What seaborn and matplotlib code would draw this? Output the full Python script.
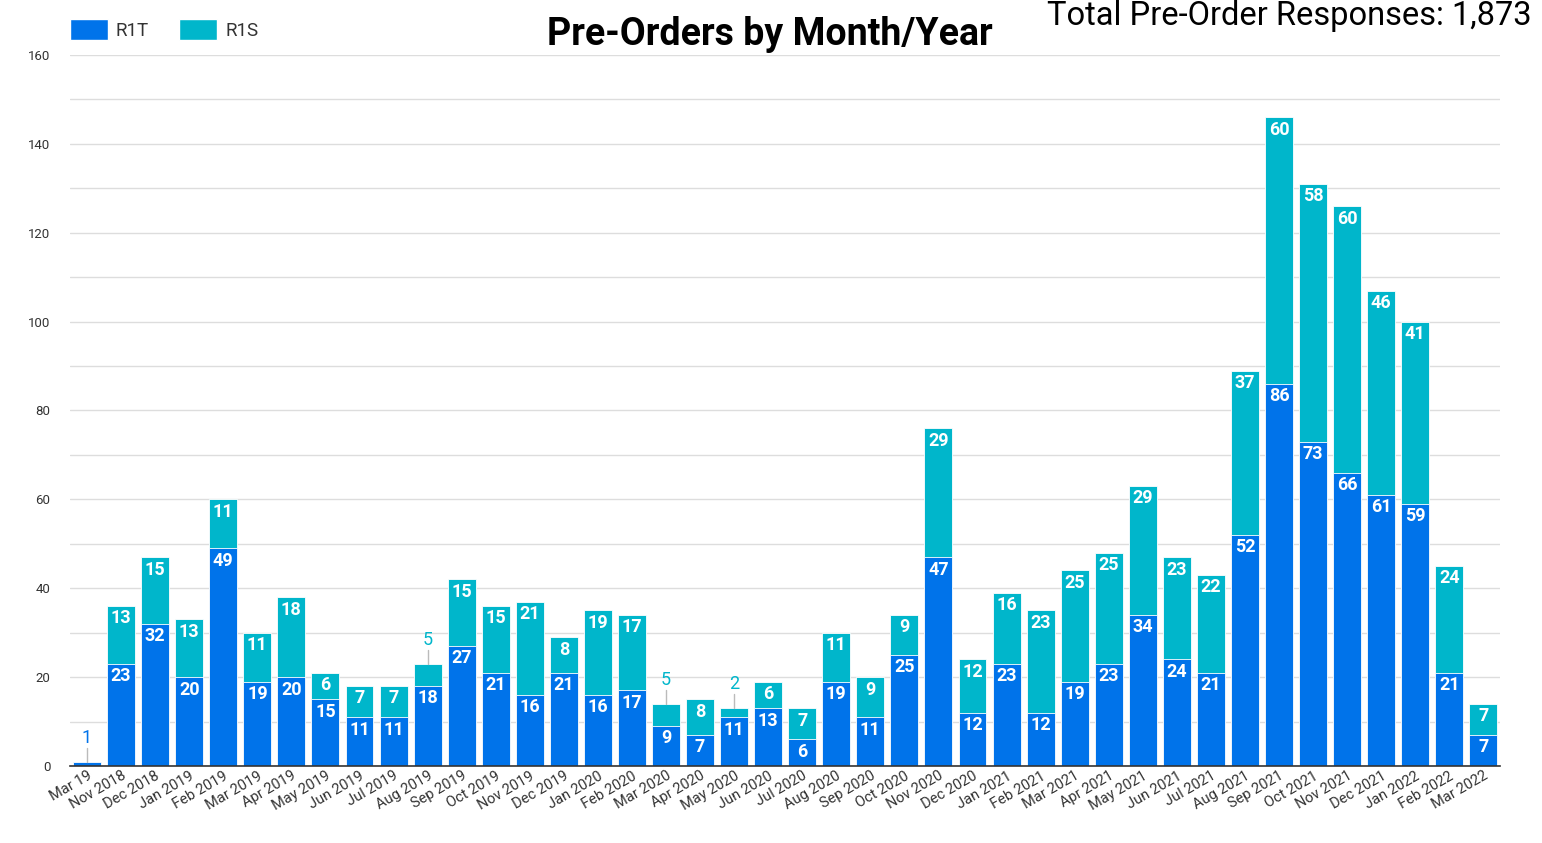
import matplotlib
matplotlib.use("Agg")
import matplotlib.pyplot as plt
from matplotlib.patches import Patch
import seaborn as sns
import pandas as pd
import numpy as np

months = ["Mar 19", "Nov 2018", "Dec 2018", "Jan 2019", "Feb 2019", "Mar 2019", "Apr 2019",
          "May 2019", "Jun 2019", "Jul 2019", "Aug 2019", "Sep 2019", "Oct 2019", "Nov 2019",
          "Dec 2019", "Jan 2020", "Feb 2020", "Mar 2020", "Apr 2020", "May 2020", "Jun 2020",
          "Jul 2020", "Aug 2020", "Sep 2020", "Oct 2020", "Nov 2020", "Dec 2020", "Jan 2021",
          "Feb 2021", "Mar 2021", "Apr 2021", "May 2021", "Jun 2021", "Jul 2021", "Aug 2021",
          "Sep 2021", "Oct 2021", "Nov 2021", "Dec 2021", "Jan 2022", "Feb 2022", "Mar 2022"]
r1t = [1, 23, 32, 20, 49, 19, 20, 15, 11, 11, 18, 27, 21, 16, 21, 16, 17, 9, 7, 11, 13,
       6, 19, 11, 25, 47, 12, 23, 12, 19, 23, 34, 24, 21, 52, 86, 73, 66, 61, 59, 21, 7]
r1s = [0, 13, 15, 13, 11, 11, 18, 6, 7, 7, 5, 15, 15, 21, 8, 19, 17, 5, 8, 2, 6,
       7, 11, 9, 9, 29, 12, 16, 23, 25, 25, 29, 23, 22, 37, 60, 58, 60, 46, 41, 24, 7]
total_label = "Total Pre-Order Responses: 1,873"

C_T = "#0073ea"
C_S = "#00b6cb"

df = pd.DataFrame({"month": months, "R1T": r1t, "R1S": r1s})
df["total"] = df["R1T"] + df["R1S"]

sns.set_theme(style="white")
plt.rcParams["font.family"] = ["Roboto", "DejaVu Sans"]

fig = plt.figure(figsize=(15.42, 8.43), dpi=100)
ax = fig.add_axes([0.0454, 0.0913, 0.9276, 0.8435])

bw = 0.82
sns.barplot(data=df, x="month", y="total", color=C_S, saturation=1, width=bw, ax=ax,
            edgecolor="white", linewidth=0.6)
sns.barplot(data=df, x="month", y="R1T", color=C_T, saturation=1, width=bw, ax=ax,
            edgecolor="white", linewidth=0.6)

ax.set_ylim(0, 160)
ax.set_xlim(-0.5, len(months) - 0.5)
ax.set_yticks(np.arange(0, 161, 20))
ax.set_yticks(np.arange(0, 161, 10), minor=True)
ax.grid(axis="y", which="both", color="#dddddd", linewidth=1)
ax.set_axisbelow(True)
for s in ["left", "right", "top"]:
    ax.spines[s].set_visible(False)
ax.spines["bottom"].set_color("#333333")
ax.spines["bottom"].set_linewidth(1.2)
ax.tick_params(axis="y", which="both", length=0, labelsize=9.5, labelcolor="#333333", pad=14)
ax.tick_params(axis="x", length=0, labelsize=10.5, labelcolor="#333333", pad=2)
ax.set_xticks(range(len(months)))
ax.set_xticklabels(months, rotation=30, ha="right", rotation_mode="anchor")
ax.set_xlabel("")
ax.set_ylabel("")

# data labels
upp = 160 / (0.8435 * 843)  # units per pixel
for i, (t, s) in enumerate(zip(r1t, r1s)):
    if t >= 6:
        ax.text(i, t - 2.8, str(t), ha="center", va="center", color="white",
                fontsize=13, fontweight="bold")
    elif t > 0:
        ax.plot([i, i], [t, t + 14 * upp], color="#bbbbbb", lw=1)
        ax.text(i, t + 24 * upp, str(t), ha="center", va="center", color=C_T, fontsize=13)
    tot = t + s
    if s >= 6:
        ax.text(i, tot - 2.8, str(s), ha="center", va="center", color="white",
                fontsize=13, fontweight="bold")
    elif s > 0:
        ax.plot([i, i], [tot, tot + 14 * upp], color="#bbbbbb", lw=1)
        ax.text(i, tot + 24 * upp, str(s), ha="center", va="center", color=C_S, fontsize=13)

fig.text(0.4995, 0.959, "Pre-Orders by Month/Year", ha="center", va="center",
         fontsize=27, fontweight="bold", color="black")
fig.text(0.993, 0.981, total_label, ha="right", va="center", fontsize=23.5, color="black")

handles = [Patch(facecolor=C_T, label="R1T"), Patch(facecolor=C_S, label="R1S")]
fig.legend(handles=handles, loc="center left", bbox_to_anchor=(0.0454, 0.965), ncol=2,
           frameon=False, fontsize=13.5, handlelength=2.0, handleheight=1.3,
           columnspacing=1.6, handletextpad=0.45, labelcolor="#333333",
           borderpad=0, borderaxespad=0)

fig.savefig("out.png", dpi=100)
